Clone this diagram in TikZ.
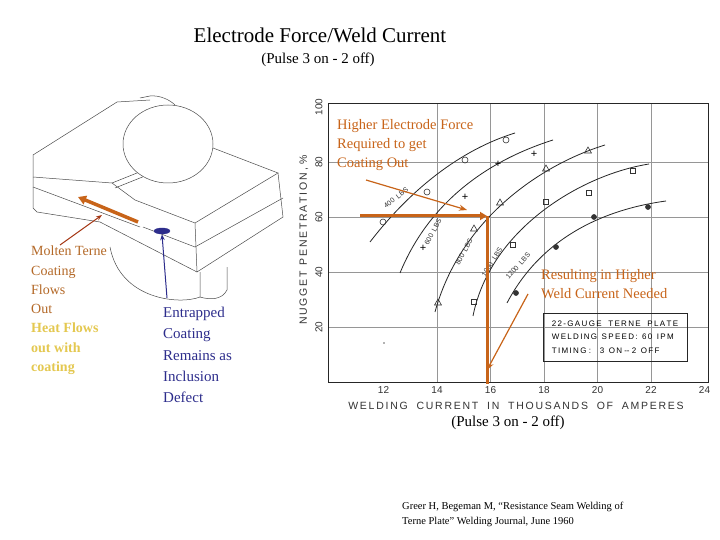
\documentclass[tikz,border=0pt]{standalone}
\usepackage{fontspec}
\setmainfont{Liberation Serif}
\newfontfamily\chartfont{Liberation Sans}
\usetikzlibrary{shapes.geometric,arrows.meta}
\definecolor{orng}{RGB}{200,100,25}
\definecolor{brwn}{RGB}{180,105,40}
\definecolor{yel}{RGB}{228,200,80}
\definecolor{navy}{RGB}{45,45,140}
\definecolor{redb}{RGB}{165,55,20}
\definecolor{gridc}{RGB}{150,150,150}
\tikzset{
 sk/.style={draw=black!70,line width=0.5pt},
 cv/.style={draw=black!85,line width=0.8pt},
 mk/.style={draw=black!80,line width=0.6pt,inner sep=0pt,minimum size=6pt},
 mcirc/.style={mk,circle},
 mcircf/.style={mk,circle,fill=black!80,minimum size=5pt},
 msq/.style={mk,rectangle,minimum size=5.5pt},
 mtri/.style={mk,regular polygon,regular polygon sides=3,minimum size=8pt},
 mplus/.style={inner sep=0pt,font=\chartfont\fontsize{11}{11}\selectfont},
 tick/.style={font=\chartfont\fontsize{10}{10}\selectfont,text=black!80},
 clab/.style={font=\chartfont\fontsize{7}{7}\selectfont,text=black!80,inner sep=0.5pt},
 otxt/.style={text=orng,font=\fontsize{14.5}{19}\selectfont,align=left,anchor=north west,inner sep=0pt},
 oline/.style={draw=orng,line width=3pt},
 oarrow/.style={draw=orng,line width=1.4pt,-{Stealth[length=8pt,width=6pt]}},
}
\begin{document}
\begin{tikzpicture}[x=1pt,y=-1pt]
\useasboundingbox (0,0) rectangle (720,540);
\fill[white] (0,0) rectangle (720,540);
% titles
\node (title) at (320,35) {\fontsize{21}{21}\selectfont Electrode Force/Weld Current};
\node (sub) at (318,60) {\fontsize{15}{15}\selectfont (Pulse 3 on - 2 off)};
% ---------- left sketch ----------
\draw[sk] (33,155) -- (117,102) -- (150,100);
\draw[sk] (33,155) -- (33,208) -- (37,212);
\draw[sk] (33,177) -- (112,183);
\draw[sk] (33,187) -- (140,227);
\draw[sk] (112,183) -- (157,165);
\draw[sk] (115,188) -- (160,170);
\draw[sk] (112,183) -- (135,200) -- (195,223) -- (278,173) -- (213,148) -- (205,146);
\draw[sk] (195,223) -- (197,272) -- (283,217) -- (278,173);
\draw[sk] (143,227) -- (195,247) -- (283,198);
\draw[sk] (37,212) -- (100,222) -- (197,272);
\draw[sk] (110,247) .. controls (120,300) and (180,305) .. (200,297) -- (200,272);
\draw[sk] (227,267) -- (227,290) .. controls (222,300) and (210,300) .. (200,297);
\draw[sk,fill=white] (168,144) ellipse [x radius=45, y radius=39];
\draw[sk] (140,98) -- (150,96) .. controls (160,95) and (170,100) .. (175,105);
\draw[oline,line width=3.5pt,-{Triangle[length=8pt,width=9pt]}] (138,222) -- (78,197);
\node[draw=navy,fill=navy,ellipse,minimum width=16pt,minimum height=6pt,inner sep=0pt] (blob) at (162,231) {};
\coordinate (moltentip) at (102,215);
\coordinate (moltenfrom) at (60,245);
\draw[redb,line width=1pt,-{Stealth[length=6pt]}] (moltenfrom) -- (moltentip);
\coordinate (entfrom) at (167,298);
\draw[navy,line width=1pt,-{Stealth[length=6pt]}] (entfrom) -- (blob.south);
\node[otxt,text=brwn,font=\fontsize{14}{19.2}\selectfont] (molten) at (31,246) {Molten Terne\\Coating\\Flows\\Out};
\node[otxt,text=yel,font=\bfseries\fontsize{14}{19.2}\selectfont] (heat) at (31,323) {Heat Flows\\out with\\coating};
\node[otxt,text=navy,font=\fontsize{15}{21.3}\selectfont] (entr) at (163,307) {Entrapped\\Coating\\Remains as\\Inclusion\\Defect};
% ---------- chart ----------
\foreach \g in {14,16,18,20,22} \draw[gridc,line width=0.5pt] ({330+(\g-10)*26.75},104) -- ({330+(\g-10)*26.75},382);
\foreach \g in {20,40,60,80} \draw[gridc,line width=0.5pt] (328,{382-\g*2.75}) -- (708,{382-\g*2.75});
\draw[black!85,line width=1pt] (328,104) rectangle (708,382);
\foreach \t in {12,14,16,18,20,22,24} \node[tick] at ({330+(\t-10)*26.75},390) {\t};
\foreach \t in {20,40,60,80,100} \node[tick,rotate=90] at (319,{382-\t*2.75}) {\t};
\node[tick,rotate=90,font=\chartfont\fontsize{10.5}{10}\selectfont] (ylab) at (304,240) {N\,U\,G\,G\,E\,T\ \ P\,E\,N\,E\,T\,R\,A\,T\,I\,O\,N\ ,\ \%};
\node[tick,font=\chartfont\fontsize{10.5}{10}\selectfont] (xlab) at (516,406) {W\,E\,L\,D\,I\,N\,G\ \ \ C\,U\,R\,R\,E\,N\,T\ \ \ I\,N\ \ \ T\,H\,O\,U\,S\,A\,N\,D\,S\ \ \ O\,F\ \ \ A\,M\,P\,E\,R\,E\,S};
% curves
\draw[cv] (370,242) .. controls (410,190) and (460,150) .. (515,133);
\draw[cv] (400,273) .. controls (430,200) and (490,160) .. (553,140);
\draw[cv] (435,312) .. controls (460,220) and (540,165) .. (605,145);
\draw[cv] (473,316) .. controls (490,230) and (580,175) .. (649,164);
\draw[cv] (507,303) .. controls (540,240) and (600,210) .. (666,201);
\node[clab,rotate=38] (l4) at (396,198) {400\ \ LBS};
\node[clab,rotate=62] (l6) at (433,232) {600\ \ LBS};
\node[clab,rotate=62] (l8) at (464,252) {800\ \ LBS};
\node[clab,rotate=58] (l10) at (492,262) {1000\ \ LBS};
\node[clab,rotate=48] (l12) at (518,266) {1200\ \ LBS};
% markers
\foreach \p [count=\i] in {(383,222),(427,192),(465,160),(506,140)} \node[mcirc] (c\i) at \p {};
\foreach \p [count=\i] in {(423,248),(465,197),(498,164),(534,154)} \node[mplus] (p\i) at \p {+};
\foreach \p [count=\i] in {(438,303),(474,229),(500,203),(546,169),(588,151)} \node[mtri] (t\i) at \p {};
\foreach \p [count=\i] in {(474,302),(513,245),(546,202),(589,193),(633,171)} \node[msq] (s\i) at \p {};
\foreach \p [count=\i] in {(516,293),(556,247),(594,217),(648,207)} \node[mcircf] (f\i) at \p {};
\node[circle,fill=black!60,inner sep=0.6pt] (dot) at (384,343) {};
% legend
\node[draw=black!85,line width=1pt,align=left,font=\chartfont\fontsize{8}{13.5}\selectfont,inner xsep=7pt,inner ysep=3pt,minimum width=144pt,minimum height=48pt] (leg) at (615,337) {2\,2\,-\,G\,A\,U\,G\,E\ \ \ T\,E\,R\,N\,E\ \ \ P\,L\,A\,T\,E\\W\,E\,L\,D\,I\,N\,G\ \ S\,P\,E\,E\,D\,:\ \ 6\,0\ \ I\,P\,M\\T\,I\,M\,I\,N\,G\ :\ \ \ \ 3\ \ O\,N\ --\ 2\ \ O\,F\,F};
% orange overlays
\coordinate (hstart) at (360,216);
\coordinate (corner) at (487,216);
\coordinate (vend) at (487,384);
\draw[oline,-{Triangle[length=7pt,width=8pt]}] (hstart) -- (corner);
\draw[oline] (corner) -- (vend);
\node[otxt] (higher) at (337,119) {Higher Electrode Force\\Required to get\\Coating Out};
\node[otxt] (result) at (541,269) {Resulting in Higher\\Weld Current Needed};
\coordinate (a1s) at (366,180);
\coordinate (a1e) at (467,210);
\draw[oarrow,line width=1.2pt] (a1s) -- (a1e);
\coordinate (a2s) at (528,294);
\coordinate (a2e) at (487,370);
\draw[oarrow,line width=1.2pt] (a2s) -- (a2e);
\node (pulse2) at (508,423) {\fontsize{15}{15}\selectfont (Pulse 3 on - 2 off)};
\node[anchor=north west,align=left,inner sep=0pt,font=\fontsize{10.5}{15}\selectfont] (cite) at (402,502) {Greer H, Begeman M, “Resistance Seam Welding of\\Terne Plate” Welding Journal, June 1960};
\end{tikzpicture}
\end{document}
